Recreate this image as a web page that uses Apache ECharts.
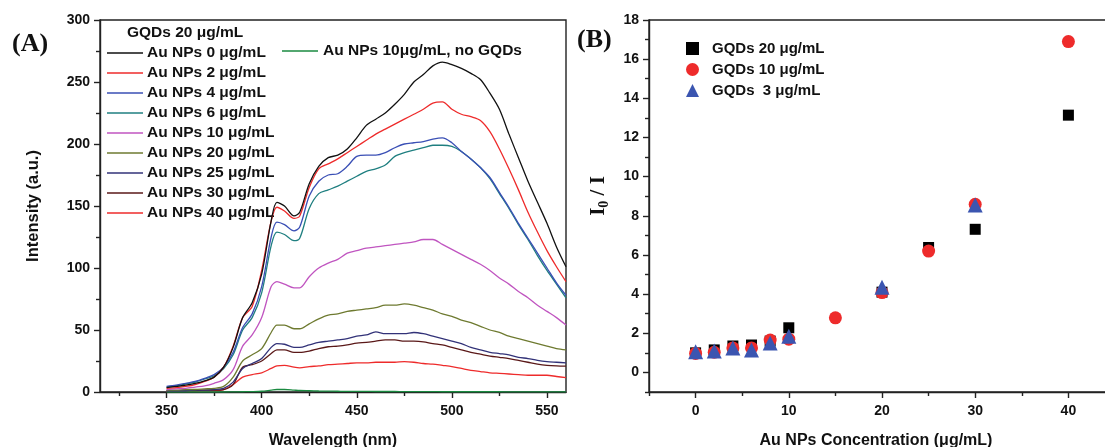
<!DOCTYPE html>
<html><head><meta charset="utf-8">
<script src="https://cdn.jsdelivr.net/npm/echarts@6/dist/echarts.min.js"></script>
<style>html,body{margin:0;padding:0;background:#fff}#c{width:1105px;height:447px}</style>
</head><body><div id="c"></div>
<script>
// ---- Panel A data ----
const wavelength = [350,355,360,365,370,375,380,385,390,395,400,405,408,412,417,420,425,430,435,440,445,450,455,460,465,470,475,480,485,490,495,500,505,510,515,520,525,530,535,540,545,550,555,560];
const au0  = [3.5,4.5,5.5,7,9,12,20,36,60,72,95,138,153,150,142,145,168,182,189,191,196,205,215,220,225,232,240,250,256,263,266,264,261,257,252,241,228,208,189,170,153,136,117,101];
const au2  = [3,3.5,4.5,6,8.5,12,20,37,60,69,98,138,149,146,140,142,165,180,184,188,193,198,203,208,212,216,220,224,228,233,234,228,224,222,219,210,196,180,163,145,129,114,101,89];
const au4  = [4.5,5.5,7,8.5,11,14,20,32,52,63,85,125,137,135,130,133,158,170,175,176,182,190,191,191,193,197,200,201,202,204,205,201,194,188,181,173,161,149,136,124,112,100,88,78];
const au6  = [4,5,6.5,8,10.5,13,19,30,50,60,80,118,129,127,122,124,148,160,163,166,170,174,178,180,183,190,193,195,197,199,199,198,194,188,181,172,160,148,135,123,110,98,87,76];
const au10 = [2,2.5,3,4,5,7,10,18,37,46,60,85,89,87,84,84,93,100,104,107,112,114,116,117,118,119,120,121,123,123,119,115,111,107,103,98,92,87,81,76,70,65,60,54];
const au20 = [1.5,1.5,2,2,2.5,3,4.5,12,25,30,35,48,54,54,51,51,55,59,62,63,65,66,67,68,70,70,71,70,68,66,63,61,58,56,53,50,48,45,43,41,39,37,35,34];
const au25 = [1,1,1,1.5,1.5,2,3,8,19,23,27,36,39,38.5,36,36,38,40,41,42,43,45,46,48.5,47,47,47,48,47,45,43,41,39,36,34,32,31,30,28,27,25.5,24.5,24,23.5];
const au30 = [1,1,1,1,1.5,1.5,2,6,20,22,25,31,34,34,32,32,33,35,36.5,37,38,39.5,40,41,42,42,41,41,40.5,39,38,36,34,32,30.5,29,28,27,25.5,24,22.5,21.5,21,20.8];
const au40 = [0.5,0.5,0.5,0.5,1,1,2,6,12,14,15.5,19,21,21.5,20,19.5,20.5,21,22,22.5,23,23.5,23.5,24,24,24,24.5,24,23,22.5,21.5,20.5,19,17.5,16.5,15.5,15,14.5,14,13.5,13.5,13.5,12.5,11.6];
const auOnly = [0,0,0,0,0,0,0,0.1,0.2,0.3,0.6,1.5,2,2,1.5,1.2,1,0.8,0.7,0.6,0.5,0.5,0.5,0.4,0.4,0.4,0.3,0.3,0.3,0.3,0.2,0.2,0.2,0.2,0.2,0.2,0.2,0.1,0.1,0.1,0.1,0.1,0.1,0.1];
const seriesNamesA = ['Au NPs 0 μg/mL','Au NPs 2 μg/mL','Au NPs 4 μg/mL','Au NPs 6 μg/mL','Au NPs 10 μg/mL','Au NPs 20 μg/mL','Au NPs 25 μg/mL','Au NPs 30 μg/mL','Au NPs 40 μg/mL'];
const auOnlyName = 'Au NPs 10μg/mL, no GQDs';
const xTicksA = [350,400,450,500,550];
const xMinorA = [325,375,425,475,525];

// ---- Panel B data ----
const concBlack = [0,2,4,6,8,10,20,25,30,40];
const ratioBlack = [1.0,1.15,1.35,1.4,1.6,2.28,4.1,6.38,7.31,13.14];
const concRed = [0,2,4,6,8,10,15,20,25,30,40];
const ratioRed = [0.97,1.03,1.25,1.25,1.65,1.7,2.79,4.08,6.2,8.59,16.9];
const concBlue = [0,2,4,6,8,10,20,30];
const ratioBlue = [1.05,1.1,1.25,1.15,1.5,1.85,4.35,8.55];
const seriesNamesB = ['GQDs 20 μg/mL','GQDs 10 μg/mL','GQDs  3 μg/mL'];
const xTicksB = [0,10,20,30,40];
const xMinorB = [-5,5,15,25,35];
const yTicksB = [0,2,4,6,8,10,12,14,16,18];
const yMinorB = [-1,1,3,5,7,9,11,13,15,17];

const colorsA = ['#111111','#ee2b2b','#3a4fb5','#1f7f80','#c055c0','#6e7a30','#323278','#5a1818','#ee2b2b'];
const valuesA = [au0,au2,au4,au6,au10,au20,au25,au30,au40];

const FONT = 'Liberation Sans, Arial, sans-serif';
const axisLineStyle = {color:'#222', width:1.4};
const lblStyle = {fontFamily:FONT, fontWeight:'bold', fontSize:14, color:'#111'};

const chart = echarts.init(document.getElementById('c'));

const series = [];
valuesA.forEach((vals, k) => {
  series.push({
    name: seriesNamesA[k], type:'line', xAxisIndex:0, yAxisIndex:0,
    data: wavelength.map((w,i)=>[w, vals[i]]),
    symbol:'none', smooth:0.3, lineStyle:{width:1.3, color:colorsA[k]}, itemStyle:{color:colorsA[k]}, z:10-k
  });
});
series.push({
  name: auOnlyName, type:'line', xAxisIndex:0, yAxisIndex:0,
  data: wavelength.map((w,i)=>[w, auOnly[i]]),
  symbol:'none', smooth:0.3, lineStyle:{width:1.3, color:'#1a8a40'}, itemStyle:{color:'#1a8a40'}
});
series.push({name:seriesNamesB[0], type:'scatter', xAxisIndex:2, yAxisIndex:1, symbol:'rect', symbolSize:11,
  data: concBlack.map((c,i)=>[c, ratioBlack[i]]), itemStyle:{color:'#000', opacity:1}, z:3});
series.push({name:seriesNamesB[1], type:'scatter', xAxisIndex:2, yAxisIndex:1, symbol:'circle', symbolSize:13,
  data: concRed.map((c,i)=>[c, ratioRed[i]]), itemStyle:{color:'#ee2b2b', opacity:1}, z:4});
series.push({name:seriesNamesB[2], type:'scatter', xAxisIndex:2, yAxisIndex:1, symbol:'triangle', symbolSize:15,
  data: concBlue.map((c,i)=>[c, ratioBlue[i]]), itemStyle:{color:'#3b55b0', opacity:1}, z:5});

const option = {
  animation:false,
  backgroundColor:'#fff',
  grid:[
    {left:100, top:20, width:466, height:372, outerBoundsMode:'none', containLabel:false, show:true, borderColor:'#222', borderWidth:1.4, backgroundColor:'transparent'},
    {left:649, top:20, width:466, height:372, outerBoundsMode:'none', containLabel:false, show:true, borderColor:'#222', borderWidth:1.4, backgroundColor:'transparent'}
  ],
  xAxis:[
    {type:'value', gridIndex:0, position:'bottom', min:315, max:560, axisLine:{onZero:false, lineStyle:axisLineStyle},
     axisTick:{show:true, length:6, inside:false, customValues:xTicksA, lineStyle:axisLineStyle},
     axisLabel:{customValues:xTicksA, margin:12, ...lblStyle}, splitLine:{show:false},
     name:'Wavelength (nm)', nameLocation:'middle', nameGap:41,
     nameTextStyle:{fontFamily:FONT, fontWeight:'bold', fontSize:16, color:'#111'}},
    {type:'value', gridIndex:0, position:'bottom', min:315, max:560, axisLine:{show:false, onZero:false},
     axisTick:{show:true, length:4, customValues:xMinorA, lineStyle:axisLineStyle},
     axisLabel:{show:false}, splitLine:{show:false}},
    {type:'value', gridIndex:1, position:'bottom', min:-5, max:45, axisLine:{onZero:false, lineStyle:axisLineStyle},
     axisTick:{show:true, length:6, customValues:xTicksB, lineStyle:axisLineStyle},
     axisLabel:{customValues:xTicksB, margin:12, ...lblStyle}, splitLine:{show:false},
     name:'Au NPs Concentration (μg/mL)', nameLocation:'middle', nameGap:41,
     nameTextStyle:{fontFamily:FONT, fontWeight:'bold', fontSize:16, color:'#111', padding:[0,0,0,-12]}},
    {type:'value', gridIndex:1, position:'bottom', min:-5, max:45, axisLine:{show:false, onZero:false},
     axisTick:{show:true, length:4, customValues:xMinorB, lineStyle:axisLineStyle},
     axisLabel:{show:false}, splitLine:{show:false}}
  ],
  yAxis:[
    {type:'value', gridIndex:0, position:'left', min:0, max:300, interval:50, axisLine:{show:true, onZero:false, lineStyle:axisLineStyle},
     axisTick:{show:true, length:6, lineStyle:axisLineStyle},
     minorTick:{show:true, splitNumber:2, length:4, lineStyle:axisLineStyle},
     axisLabel:{margin:10, ...lblStyle}, splitLine:{show:false}, minorSplitLine:{show:false},
     name:'Intensity (a.u.)', nameLocation:'middle', nameGap:58,
     nameTextStyle:{fontFamily:FONT, fontWeight:'bold', fontSize:16.5, color:'#111'}},
    {type:'value', gridIndex:1, position:'left', min:-1, max:18, axisLine:{show:true, onZero:false, lineStyle:axisLineStyle},
     axisTick:{show:true, length:6, customValues:yTicksB, lineStyle:axisLineStyle},
     axisLabel:{customValues:yTicksB, margin:10, ...lblStyle}, splitLine:{show:false},
     name:'{a|I}{b|0}{a| / I}', nameLocation:'middle', nameGap:38,
     nameTextStyle:{padding:[0,0,0,20], rich:{
       a:{fontFamily:'Liberation Serif, Times New Roman, serif', fontWeight:'bold', fontSize:21, color:'#111'},
       b:{fontFamily:'Liberation Serif, Times New Roman, serif', fontWeight:'bold', fontSize:14, color:'#111', padding:[10,0,0,0]}
     }}},
    {type:'value', gridIndex:1, position:'left', min:-1, max:18, axisLine:{show:false, onZero:false},
     axisTick:{show:true, length:4, customValues:yMinorB, lineStyle:axisLineStyle},
     axisLabel:{show:false}, splitLine:{show:false}}
  ],
  legend:[
    {data:seriesNamesA, orient:'vertical', left:102, top:40, icon:'rect', itemWidth:36, itemHeight:1.5, itemGap:4,
     textStyle:{fontFamily:FONT, fontWeight:'bold', fontSize:15.5, lineHeight:14, color:'#111', padding:[0,0,0,-1]}, selectedMode:false},
    {data:[auOnlyName], left:277, top:38, icon:'rect', itemWidth:36, itemHeight:1.5,
     textStyle:{fontFamily:FONT, fontWeight:'bold', fontSize:15.5, lineHeight:14, color:'#111'}, selectedMode:false},
    {data:[{name:seriesNamesB[0], icon:'rect'},{name:seriesNamesB[1], icon:'circle'},{name:seriesNamesB[2], icon:'triangle'}],
     orient:'vertical', left:681, top:36, itemWidth:13, itemHeight:13, itemGap:6,
     textStyle:{fontFamily:FONT, fontWeight:'bold', fontSize:15, lineHeight:13, color:'#111', padding:[0,0,0,8]}, selectedMode:false}
  ],
  graphic:[
    {type:'text', left:127, top:25, style:{text:'GQDs 20 μg/mL', font:'bold 15.5px Liberation Sans, Arial, sans-serif', fill:'#111'}},
    {type:'text', left:12, top:31, style:{text:'(A)', font:'bold 26px Liberation Serif, Times New Roman, serif', fill:'#111'}},
    {type:'text', left:577, top:27, style:{text:'(B)', font:'bold 26px Liberation Serif, Times New Roman, serif', fill:'#111'}}
  ],
  series: series
};
chart.setOption(option);
</script></body></html>
